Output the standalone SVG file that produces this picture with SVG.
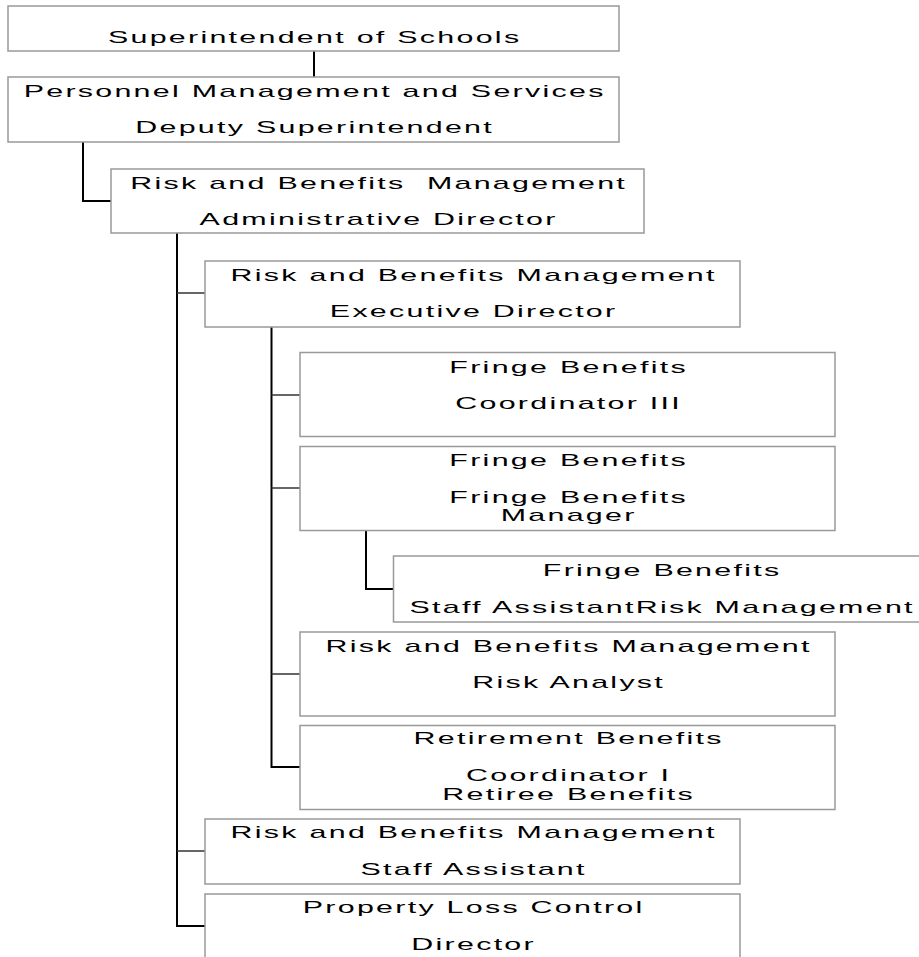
<svg xmlns="http://www.w3.org/2000/svg" width="919" height="957" viewBox="0 0 919 957">
  <style>
    .box { fill: #ffffff; stroke: #999999; stroke-width: 1.5; }
    .lbl { font-family: "Liberation Sans", Arial, sans-serif; font-size: 16px; letter-spacing: 1.2px; fill: #000000; text-anchor: middle; }
    .trunk { fill: none; stroke: #000000; stroke-width: 2; }
    .stub { fill: none; stroke: #333333; stroke-width: 1.5; }
  </style>
  <rect width="919" height="957" fill="#ffffff"/>

  <!-- reporting lines -->
  <g id="connectors">
    <line class="trunk" x1="314" y1="51" x2="314" y2="77"/>
    <path class="trunk" d="M83 142 V201 H111"/>
    <path class="trunk" d="M177 233 V926 H205"/>
    <line class="stub" x1="177" y1="293" x2="205" y2="293"/>
    <line class="stub" x1="177" y1="851" x2="205" y2="851"/>
    <path class="trunk" d="M271.5 327 V767 H300"/>
    <line class="stub" x1="271.5" y1="395" x2="300" y2="395"/>
    <line class="stub" x1="271.5" y1="488" x2="300" y2="488"/>
    <line class="stub" x1="271.5" y1="674" x2="300" y2="674"/>
    <path class="trunk" d="M366 530.5 V589 H393.5"/>
  </g>

  <!-- labels are drawn wide: each is centred on its box and stretched horizontally -->
  <g id="superintendent">
    <rect class="box" x="8" y="6" width="611" height="45"/>
    <text class="lbl" x="0.6" transform="translate(313.5 42.5) scale(1.9 1)">Superintendent of Schools</text>
  </g>

  <g id="deputy-superintendent">
    <rect class="box" x="8" y="77" width="611" height="65"/>
    <text class="lbl" x="0.6" transform="translate(313.5 97) scale(1.9 1)">Personnel Management and Services</text>
    <text class="lbl" x="0.6" transform="translate(313.5 133) scale(1.9 1)">Deputy Superintendent</text>
  </g>

  <g id="administrative-director">
    <rect class="box" x="111" y="169" width="533" height="64"/>
    <text class="lbl" x="0.6" transform="translate(377.5 188.5) scale(1.9 1)" xml:space="preserve">Risk and Benefits  Management</text>
    <text class="lbl" x="0.6" transform="translate(377.5 225) scale(1.9 1)">Administrative Director</text>
  </g>

  <g id="executive-director">
    <rect class="box" x="205" y="261" width="535" height="66"/>
    <text class="lbl" x="0.6" transform="translate(472.5 280.5) scale(1.9 1)">Risk and Benefits Management</text>
    <text class="lbl" x="0.6" transform="translate(472.5 317) scale(1.9 1)">Executive Director</text>
  </g>

  <g id="fringe-coordinator">
    <rect class="box" x="300" y="352.5" width="535" height="84"/>
    <text class="lbl" x="0.6" transform="translate(567.5 372.5) scale(1.9 1)">Fringe Benefits</text>
    <text class="lbl" x="0.6" transform="translate(567.5 409) scale(1.9 1)">Coordinator III</text>
  </g>

  <g id="fringe-manager">
    <rect class="box" x="300" y="446.5" width="535" height="84"/>
    <text class="lbl" x="0.6" transform="translate(567.5 465.5) scale(1.9 1)">Fringe Benefits</text>
    <text class="lbl" x="0.6" transform="translate(567.5 502.5) scale(1.9 1)">Fringe Benefits</text>
    <text class="lbl" x="0.6" transform="translate(567.5 521) scale(1.9 1)">Manager</text>
  </g>

  <g id="fringe-staff-assistant">
    <rect class="box" x="393.5" y="556" width="535" height="66"/>
    <text class="lbl" x="0.6" transform="translate(661 576) scale(1.9 1)">Fringe Benefits</text>
    <text class="lbl" x="0.6" transform="translate(661 612.5) scale(1.9 1)">Staff AssistantRisk Management</text>
  </g>

  <g id="risk-analyst">
    <rect class="box" x="300" y="632" width="535" height="84"/>
    <text class="lbl" x="0.6" transform="translate(567.5 651.5) scale(1.9 1)">Risk and Benefits Management</text>
    <text class="lbl" x="0.6" transform="translate(567.5 688) scale(1.9 1)">Risk Analyst</text>
  </g>

  <g id="retirement-coordinator">
    <rect class="box" x="300" y="725.5" width="535" height="84"/>
    <text class="lbl" x="0.6" transform="translate(567.5 744) scale(1.9 1)">Retirement Benefits</text>
    <text class="lbl" x="0.6" transform="translate(567.5 781) scale(1.9 1)">Coordinator I</text>
    <text class="lbl" x="0.6" transform="translate(567.5 800) scale(1.9 1)">Retiree Benefits</text>
  </g>

  <g id="staff-assistant">
    <rect class="box" x="205" y="819" width="535" height="65"/>
    <text class="lbl" x="0.6" transform="translate(472.5 838) scale(1.9 1)">Risk and Benefits Management</text>
    <text class="lbl" x="0.6" transform="translate(472.5 874.5) scale(1.9 1)">Staff Assistant</text>
  </g>

  <g id="property-loss-control">
    <rect class="box" x="205" y="894" width="535" height="80"/>
    <text class="lbl" x="0.6" transform="translate(472.5 913) scale(1.9 1)">Property Loss Control</text>
    <text class="lbl" x="0.6" transform="translate(472.5 949.5) scale(1.9 1)">Director</text>
  </g>
</svg>
